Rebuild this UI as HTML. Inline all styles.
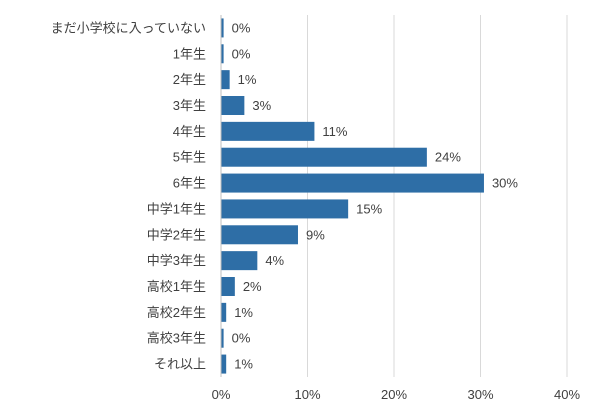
<!DOCTYPE html>
<html><head><meta charset="utf-8"><style>
body{margin:0;background:#fff;}
svg text{font-family:"Liberation Sans","Noto Sans CJK JP",sans-serif;font-size:13px;fill:#404040;}
</style></head><body>
<svg id="chart" width="600" height="414" xmlns="http://www.w3.org/2000/svg"></svg>
<script>
const categories=["まだ小学校に入っていない","1年生","2年生","3年生","4年生","5年生","6年生","中学1年生","中学2年生","中学3年生","高校1年生","高校2年生","高校3年生","それ以上"];
const values=[0.3,0.3,1.0,2.7,10.8,23.8,30.4,14.7,8.9,4.2,1.6,0.6,0.3,0.6];
const valueLabels=["0%","0%","1%","3%","11%","24%","30%","15%","9%","4%","2%","1%","0%","1%"];
const ticks=[0,10,20,30,40];
const tickLabels=["0%","10%","20%","30%","40%"];
const svg=document.getElementById('chart');
const NS="http://www.w3.org/2000/svg";
const x0=221,x1=567,plotTop=15,plotBottom=377;
const xs=v=>x0+(v/40)*(x1-x0);
const step=(plotBottom-plotTop)/categories.length;
const yc=i=>plotTop+step*(i+0.5);
function mk(t,a){const e=document.createElementNS(NS,t);for(const k in a)e.setAttribute(k,a[k]);svg.appendChild(e);return e;}
ticks.forEach((t,i)=>{
 const g=mk('line',{x1:xs(t),x2:xs(t),y1:plotTop,y2:plotBottom,stroke:'#d9d9d9','stroke-width':1});
 
 
 const l=mk('text',{x:xs(t),y:399,'text-anchor':'middle'});l.textContent=tickLabels[i];
 
 
});
categories.forEach((c,i)=>{
 const y=yc(i);
 const l=mk('text',{x:206,y:y+4.5,'text-anchor':'end'});l.textContent=c;
 
 
 const b=mk('rect',{x:x0,y:y-9.5,width:Math.max(xs(values[i])-x0,0),height:19,fill:'#2e6ea6'});
 
 
 const v=mk('text',{x:xs(values[i])+8,y:y+4.5});v.textContent=valueLabels[i];
 
 
});
const ax=mk('line',{x1:x0,x2:x0,y1:plotTop,y2:plotBottom,stroke:'#bfbfbf','stroke-width':1});


</script>
</body></html>
